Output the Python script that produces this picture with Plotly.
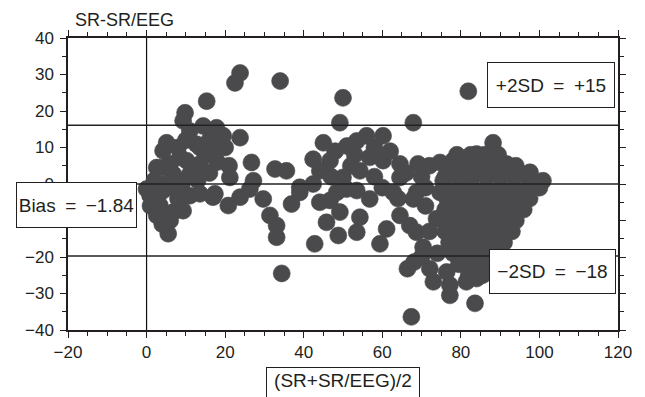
import plotly.graph_objects as go

# ---- data ----
left_upper_x = [23.8, 22.5, 34.0, 15.3, 9.8, 9.3, 14.4, 17.8, 11.0, 23.8, 19.5, 12.7, 17.8,
                5.1, 4.2, 8.5, 13.6, 4.2, 6.8, 11.0, 26.7, 32.7, 35.6, 21.2, 27.2,
                2.6, 6.0, 10.2, 13.6, 15.0, 8.0, 10.0, 16.0, 20.0, 2.0, 5.0, 9.0, 13.0, 16.0, 18.0, 21.0]
left_upper_y = [30.4, 27.7, 28.2, 22.7, 19.5, 17.3, 15.9, 15.4, 14.5, 12.7, 13.2, 10.9, 9.1,
                11.3, 9.1, 7.3, 5.5, 4.5, 2.7, 2.7, 5.9, 4.1, 3.6, 1.8, 0.9,
                4.5, 5.5, 6.4, 10.0, 8.0, 10.0, 12.0, 12.0, 10.0, 1.0, 0.0, 0.0, 1.0, 3.0, 6.0, 5.0]

mid_upper_x = [50.0, 49.2, 45.0, 51.0, 42.4, 46.7, 44.1, 50.0, 42.4, 39.0,
               81.9, 67.9, 88.2, 60.2, 56.0, 53.5, 84.0, 91.6, 97.6, 100.9,
               69.1, 64.5, 60.2, 74.7, 78.0, 56.8, 64.5, 75.5, 81.4, 87.4, 94.2, 54.3, 68.7,
               48.0, 53.0, 58.0, 62.0, 66.0, 70.0, 72.0, 58.0, 52.0, 47.0, 60.0, 71.0]
mid_upper_y = [23.6, 16.8, 11.3, 10.4, 6.8, 6.4, 3.6, 1.8, 0.0, -0.9,
               25.4, 16.8, 11.3, 13.2, 13.2, 11.8, 8.2, 5.5, 3.2, 0.9,
               5.5, 5.5, 6.4, 5.9, 6.4, 7.3, 1.8, 0.9, 2.7, 3.6, 2.7, 3.6, -2.3,
               9.0, 8.0, 10.0, 9.0, 3.0, 2.0, 5.0, 2.0, 5.0, 2.0, -1.0, -1.0]

left_lower_x = [0.9, 3.4, 6.8, 9.3, 2.6, 6.0, 5.5, 11.0, 0.0, 4.2, 7.7, 13.6, 16.9, 3.0, 8.0, 4.0, 1.0,
                17.4, 20.8, 23.8, 26.3, 29.7, 31.4, 33.1, 33.1, 34.4, 36.9, 39.0, 42.8, 45.8, 48.8,
                46.7, 49.2, 50.9, 44.1, 48.4]
left_lower_y = [-3.2, -5.9, -7.7, -7.3, -8.6, -10.0, -13.6, -3.2, -1.4, -1.8, -1.8, -2.7, -3.6, -3.0, -4.0, -11.0, -6.0,
                -2.7, -5.9, -3.6, -1.4, -4.1, -8.6, -11.4, -14.6, -24.5, -5.5, -2.3, -16.4, -10.5, -14.1,
                -4.5, -7.7, -1.4, -5.0, -2.3]

mid_lower_x = [67.4, 83.6, 77.2, 59.4, 53.5, 54.3, 61.1, 67.0, 68.7, 64.5, 67.9, 62.8, 56.8, 53.5,
               73.8, 74.7, 70.4, 66.4, 68.1, 73.0, 77.2, 81.4, 84.0, 76.4, 72.1, 71.0, 72.0, 70.0, 74.0, 64.0]
mid_lower_y = [-36.4, -32.7, -30.5, -16.4, -13.2, -9.1, -12.3, -11.4, -13.2, -8.6, -4.1, -2.3, -4.1, -1.8,
               -9.5, -2.3, -17.3, -23.2, -21.4, -26.8, -27.7, -26.8, -25.9, -24.1, -23.2, -6.0, -13.0, -20.0, -19.0, -4.0]

dense_x = [79, 82.5, 86, 89.5,
           76.5, 80, 83.5, 87, 90.5, 94,
           76, 79.5, 83, 86.5, 90, 93.5, 97,
           76, 79.5, 83, 86.5, 90, 93.5, 97, 100,
           76.5, 80, 83.5, 87, 90.5, 94, 97.5,
           76, 79.5, 83, 86.5, 90, 93.5, 96,
           76.5, 80, 83.5, 87, 90.5, 94,
           76, 79.5, 83, 86.5, 90, 93,
           77, 80.5, 84, 87.5, 91,
           78, 81.5, 85, 88.5,
           79.5, 83, 86.5,
           82, 85.5]
dense_y = [8, 8, 8, 8,
           5, 5, 5, 5, 5, 5,
           2, 2, 2, 2, 2, 2, 2,
           -1, -1, -1, -1, -1, -1, -1, -1,
           -4, -4, -4, -4, -4, -4, -4,
           -7, -7, -7, -7, -7, -7, -7,
           -10, -10, -10, -10, -10, -10,
           -13, -13, -13, -13, -13, -13,
           -16, -16, -16, -16, -16,
           -19, -19, -19, -19,
           -22, -22, -22,
           -25, -25]

bias_line = 0.0
upper_line = 16.1
lower_line = -19.7

x_all = left_upper_x + mid_upper_x + left_lower_x + mid_lower_x + dense_x
y_all = left_upper_y + mid_upper_y + left_lower_y + mid_lower_y + dense_y

FONT = "Liberation Sans, Arial, Helvetica, sans-serif"
INK = "#231f20"
DOT = "#4a4a4c"

fig = go.Figure()
fig.add_trace(go.Scatter(
    x=x_all, y=y_all, mode="markers",
    marker=dict(size=17, color=DOT, opacity=1, line=dict(width=0.6, color=DOT)),
    opacity=1,
    hoverinfo="skip", showlegend=False,
))

# reference lines
fig.add_shape(type="line", xref="x", yref="y", x0=0, x1=0, y0=-40, y1=40,
              line=dict(color="#111", width=1.2), layer="below")
for yv in (upper_line, bias_line, lower_line):
    fig.add_shape(type="line", xref="paper", yref="y", x0=0, x1=1, y0=yv, y1=yv,
                  line=dict(color="#222", width=1.5), layer="above")

axis_common = dict(
    showline=True, linecolor=INK, linewidth=1.5, mirror="allticks",
    ticks="outside", ticklen=6, tickwidth=1.2, tickcolor=INK,
    showgrid=False, zeroline=False,
    tickfont=dict(family=FONT, size=17, color=INK),
    minor=dict(ticks="outside", ticklen=4, tickwidth=1, tickcolor=INK, showgrid=False),
)

fig.update_xaxes(range=[-20, 120], dtick=20, tick0=0, **axis_common)
fig.update_xaxes(minor_dtick=5)
fig.update_yaxes(range=[-40, 40], dtick=10, tick0=0, ticklabelstandoff=3, **axis_common)
fig.update_yaxes(minor_dtick=5)

SP = "\u2002"
ann_font = dict(family=FONT, size=19, color=INK)
box = dict(bordercolor=INK, borderwidth=1, bgcolor="white", borderpad=2, showarrow=False,
           xref="paper", yref="paper", font=ann_font)

fig.add_annotation(text=f"+2SD{SP}={SP}+15", x=0.878, y=0.839, xanchor="center", yanchor="middle",
                   width=122, height=40, **box)
fig.add_annotation(text=f"Bias{SP}={SP}\u22121.84", x=0.0155, y=0.428, xanchor="center", yanchor="middle",
                   width=115, height=40, **box)
fig.add_annotation(text=f"\u22122SD{SP}={SP}\u221218", x=0.881, y=0.2003, xanchor="center", yanchor="middle",
                   width=121, height=39, **box)
fig.add_annotation(text="(SR+SR/EEG)/2", x=(343 - 68) / 550, y=(330 - 367) / 292,
                   xanchor="center", yanchor="top", valign="top", width=148, height=40, **box)
fig.add_annotation(text="SR-SR/EEG", x=(73 - 68) / 550, y=(330 - 20) / 292, xref="paper", yref="paper",
                   xanchor="left", yanchor="middle", showarrow=False,
                   font=dict(family=FONT, size=18, color=INK))

fig.update_layout(
    width=645, height=397, autosize=False,
    margin=dict(l=68, r=27, t=38, b=67, pad=0),
    paper_bgcolor="white", plot_bgcolor="white",
    showlegend=False,
)

fig.write_html("out.html")
